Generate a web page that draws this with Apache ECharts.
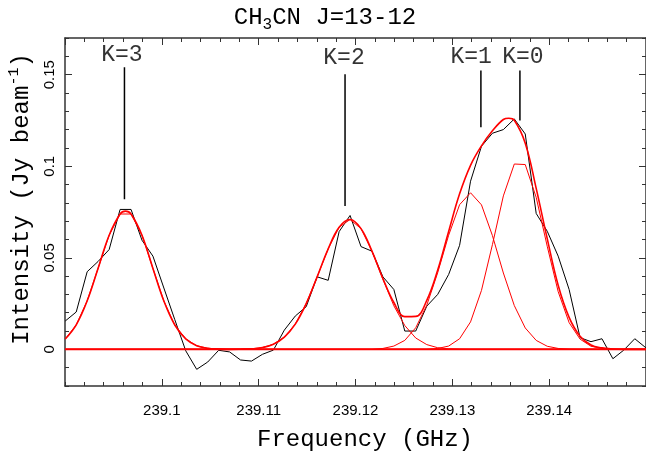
<!DOCTYPE html>
<html><head><meta charset="utf-8">
<script src="https://cdn.jsdelivr.net/npm/echarts@6/dist/echarts.min.js"></script>
<style>html,body{margin:0;padding:0;background:#fff}#c{width:646px;height:455px}</style>
</head><body><div id="c"></div>
<script>
// Channel frequencies (GHz)
const channelFreq = [239.09003, 239.09116, 239.09229, 239.09342, 239.09456, 239.09569, 239.09682, 239.09795, 239.09908, 239.10021,
  239.10134, 239.10247, 239.10360, 239.10474, 239.10587, 239.10700, 239.10813, 239.10926, 239.11039, 239.11152,
  239.11265, 239.11378, 239.11491, 239.11604, 239.11718, 239.11831, 239.11944, 239.12057, 239.12170, 239.12283,
  239.12396, 239.12509, 239.12622, 239.12736, 239.12849, 239.12962, 239.13075, 239.13188, 239.13301, 239.13414,
  239.13527, 239.13640, 239.13753, 239.13866, 239.13980, 239.14093, 239.14206, 239.14319, 239.14432, 239.14545,
  239.14658, 239.14771, 239.14884, 239.14998];
// Observed spectrum (Jy/beam)
const observed = [0.0155, 0.0204, 0.0424, 0.0480, 0.0545, 0.0764, 0.0764, 0.0596, 0.0509, 0.0335,
  0.0162, -0.0008, -0.0109, -0.0069, -0.0005, -0.0014, -0.0058, -0.0064, -0.0027, -0.0004,
  0.0105, 0.0182, 0.0233, 0.0396, 0.0377, 0.0643, 0.0731, 0.0561, 0.0536, 0.0396,
  0.0327, 0.0100, 0.0100, 0.0236, 0.0300, 0.0409, 0.0568, 0.0918, 0.1109, 0.1180,
  0.1200, 0.1258, 0.1176, 0.0742, 0.0645, 0.0509, 0.0327, 0.0064, 0.0042, 0.0058,
  -0.0051, -0.0004, 0.0058, 0.0009];
// Fitted components per channel
const fitK3 = [0.0057, 0.0134, 0.0265, 0.0443, 0.0623, 0.0739, 0.0739, 0.0623, 0.0442, 0.0264,
  0.0133, 0.0057, 0.0020, 0.0006, 0.0002, 0, 0, 0, 0, 0,
  0, 0, 0, 0, 0, 0, 0, 0, 0, 0,
  0, 0, 0, 0, 0, 0, 0, 0, 0, 0,
  0, 0, 0, 0, 0, 0, 0, 0, 0, 0,
  0, 0, 0, 0];
const fitK2 = [0, 0, 0, 0, 0, 0, 0, 0, 0, 0,
  0, 0, 0, 0, 0, 0, 0.0001, 0.0003, 0.0010, 0.0028,
  0.0067, 0.0138, 0.0250, 0.0396, 0.0549, 0.0667, 0.0709, 0.0659, 0.0536, 0.0382,
  0.0238, 0.0130, 0.0062, 0.0026, 0.0009, 0.0003, 0.0001, 0, 0, 0,
  0, 0, 0, 0, 0, 0, 0, 0, 0, 0,
  0, 0, 0, 0];
const fitK1 = [0, 0, 0, 0, 0, 0, 0, 0, 0, 0,
  0, 0, 0, 0, 0, 0, 0, 0, 0, 0,
  0, 0, 0, 0, 0, 0, 0, 0, 0, 0.0005,
  0.0018, 0.0049, 0.0118, 0.0241, 0.0419, 0.0623, 0.0790, 0.0855, 0.0789, 0.0621,
  0.0417, 0.0239, 0.0117, 0.0049, 0.0017, 0.0005, 0.0001, 0, 0, 0,
  0, 0, 0, 0];
const fitK0 = [0, 0, 0, 0, 0, 0, 0, 0, 0, 0,
  0, 0, 0, 0, 0, 0, 0, 0, 0, 0,
  0, 0, 0, 0, 0, 0, 0, 0, 0, 0,
  0, 0, 0, 0, 0.0005, 0.0018, 0.0058, 0.0150, 0.0322, 0.0572,
  0.0838, 0.1012, 0.1009, 0.0830, 0.0563, 0.0315, 0.0146, 0.0056, 0.0017, 0.0005,
  0.0001, 0, 0, 0];
// Total fit (smooth curve)
const fitFreq = [239.09003, 239.09116, 239.09229, 239.09342, 239.09456, 239.09569, 239.09624, 239.09682, 239.09795, 239.09908, 239.10021,
  239.10134, 239.10247, 239.10360, 239.10474, 239.10587, 239.10700, 239.10813, 239.10926, 239.11039, 239.11152,
  239.11265, 239.11378, 239.11491, 239.11604, 239.11718, 239.11831, 239.11944, 239.12057, 239.12170, 239.12283,
  239.12396, 239.12509, 239.12622, 239.12736, 239.12849, 239.12962, 239.13075, 239.13188, 239.13301, 239.13414,
  239.13527, 239.13583, 239.13640, 239.13753, 239.13866, 239.13980, 239.14093, 239.14206, 239.14319, 239.14432, 239.14545,
  239.14658, 239.14771, 239.14884, 239.14998];
const fitTotal = [0.0057, 0.0134, 0.0265, 0.0443, 0.0623, 0.0739, 0.0755, 0.0739, 0.0623, 0.0442, 0.0264,
  0.0133, 0.0057, 0.0020, 0.0006, 0.0002, 0.0000, 0.0001, 0.0003, 0.0010, 0.0028,
  0.0067, 0.0138, 0.0250, 0.0396, 0.0549, 0.0667, 0.0709, 0.0659, 0.0536, 0.0387,
  0.0256, 0.0179, 0.0180, 0.0267, 0.0433, 0.0644, 0.0849, 0.1005, 0.1111, 0.1193,
  0.1255, 0.1262, 0.1251, 0.1126, 0.0879, 0.0605, 0.0350, 0.0175, 0.0072, 0.0024, 0.0008,
  0.0002, 0, 0, 0];
const baselineValue = 0;
// Line identifications
const lineLabels = ['K=3', 'K=2', 'K=1', 'K=0'];
const markerFreq = [239.09614, 239.11892, 239.13295, 239.13698];
const markerTop = [0.1540, 0.1502, 0.1522, 0.1522];
const markerBottom = [0.0820, 0.0783, 0.1213, 0.1249];
const labelFreq = [239.09587, 239.11881, 239.13194, 239.13729];
const labelY = [0.1607, 0.1589, 0.1596, 0.1596];
// Ticks
const xTickValues = [239.1, 239.11, 239.12, 239.13, 239.14];
const xTickLabels = ['239.1', '239.11', '239.12', '239.13', '239.14'];
const yTickValues = [0, 0.05, 0.1, 0.15];
const yTickLabels = ['0', '0.05', '0.1', '0.15'];

const X_MIN = 239.09, X_MAX = 239.15, Y_MIN = -0.02, Y_MAX = 0.17;
const FRAME = '#333';
const MONO = 'Liberation Mono';
const SANS = 'Liberation Sans';

function fmtX(v) {
  for (let i = 0; i < xTickValues.length; i++) if (Math.abs(v - xTickValues[i]) < 1e-6) return xTickLabels[i];
  return '';
}
function fmtY(v) {
  for (let i = 0; i < yTickValues.length; i++) if (Math.abs(v - yTickValues[i]) < 1e-6) return yTickLabels[i];
  return '';
}
function xAx(pos, interval, len, showLine, showLabel) {
  return {
    type: 'value', position: pos, min: X_MIN, max: X_MAX, interval: interval,
    axisLine: { show: showLine, onZero: false, lineStyle: { color: FRAME, width: 1.5 } },
    axisTick: { show: true, inside: true, length: len, lineStyle: { color: FRAME, width: 1 } },
    axisLabel: showLabel ? { show: true, formatter: fmtX, showMinLabel: false, showMaxLabel: false,
      fontFamily: SANS, fontSize: 15, color: '#000', margin: 17 } : { show: false },
    splitLine: { show: false }
  };
}
function yAx(pos, len, showLine, showLabel, custom) {
  const a = {
    type: 'value', position: pos, min: Y_MIN, max: Y_MAX,
    axisLine: { show: showLine, onZero: false, lineStyle: { color: FRAME, width: 1.5 } },
    axisTick: { show: true, inside: true, length: len, lineStyle: { color: FRAME, width: 1 } },
    axisLabel: showLabel ? { show: true, formatter: fmtY, rotate: 90, fontFamily: SANS, fontSize: 15,
      color: '#000', margin: 8, customValues: yTickValues } : { show: false },
    splitLine: { show: false }
  };
  if (custom) a.axisTick.customValues = yTickValues; else a.interval = 0.01;
  return a;
}

const series = [];
series.push({ type: 'line', data: channelFreq.map((f, i) => [f, observed[i]]), symbol: 'none',
  lineStyle: { color: '#000', width: 1 }, z: 3 });
[fitK3, fitK2, fitK1, fitK0].forEach(arr => {
  series.push({ type: 'line', data: channelFreq.map((f, i) => [f, arr[i]]), symbol: 'none',
    lineStyle: { color: '#ff0000', width: 1 }, z: 4 });
});
series.push({ type: 'line', data: fitFreq.map((f, i) => [f, fitTotal[i]]), symbol: 'none', smooth: 0.4,
  lineStyle: { color: '#ff0000', width: 1.6 }, z: 5 });
series.push({ type: 'line', data: [[X_MIN, baselineValue], [X_MAX, baselineValue]], symbol: 'none',
  lineStyle: { color: '#ff0000', width: 2 }, z: 6 });
markerFreq.forEach((f, i) => {
  series.push({ type: 'line', data: [[f, markerTop[i]], [f, markerBottom[i]]], symbol: 'none',
    lineStyle: { color: '#000', width: 1.5 }, z: 7 });
});
series.push({ type: 'scatter', symbolSize: 1, itemStyle: { color: 'rgba(0,0,0,0)' },
  data: labelFreq.map((f, i) => ({ value: [f, labelY[i]], name: lineLabels[i] })),
  label: { show: true, position: 'inside', formatter: '{b}', color: '#000', fontFamily: MONO, fontSize: 23 }, z: 8 });

const chart = echarts.init(document.getElementById('c'), null, { renderer: 'canvas' });
chart.setOption({
  animation: false,
  backgroundColor: '#fff',
  grid: { left: 65, right: 0, top: 38, bottom: 69, containLabel: false },
  xAxis: [
    xAx('bottom', 0.01, 7, true, true),
    xAx('bottom', 0.002, 4, false, false),
    xAx('top', 0.01, 7, true, false),
    xAx('top', 0.002, 4, false, false)
  ],
  yAxis: [
    yAx('left', 7, true, true, true),
    yAx('left', 4, false, false, false),
    yAx('right', 7, true, false, true),
    yAx('right', 4, false, false, false)
  ],
  series: series,
  graphic: [
    { type: 'text', x: 325, y: 18, z: 100, style: {
      text: '{m|CH}{s|3}{m|CN J=13-12}', align: 'center', verticalAlign: 'middle', fill: '#000',
      rich: { m: { fontFamily: MONO, fontSize: 24, lineHeight: 30, verticalAlign: 'middle', fill: '#000' },
              s: { fontFamily: MONO, fontSize: 16, lineHeight: 18, verticalAlign: 'bottom', fill: '#000' } } } },
    { type: 'text', x: 365, y: 440, z: 100, style: {
      text: 'Frequency (GHz)', align: 'center', verticalAlign: 'middle', fill: '#000',
      fontFamily: MONO, fontSize: 24 } },
    { type: 'text', x: 22, y: 199, rotation: Math.PI / 2, z: 100, style: {
      text: '{m|Intensity (Jy beam}{p|-1}{m|)}', align: 'center', verticalAlign: 'middle', fill: '#000',
      rich: { m: { fontFamily: MONO, fontSize: 24, lineHeight: 30, verticalAlign: 'middle', fill: '#000' },
              p: { fontFamily: MONO, fontSize: 15, lineHeight: 12, verticalAlign: 'top', fill: '#000' } } } }
  ]
});
</script></body></html>
